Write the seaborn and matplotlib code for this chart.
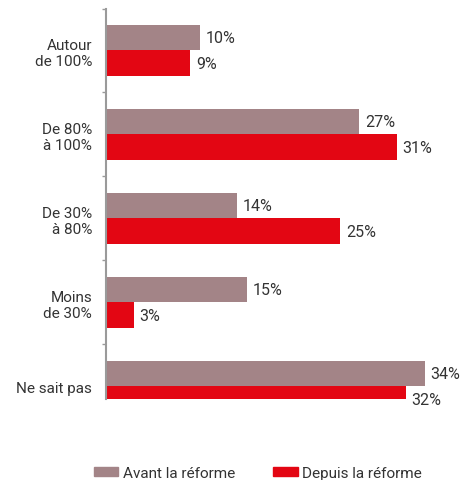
import matplotlib
matplotlib.use("Agg")
import matplotlib.pyplot as plt
import seaborn as sns
import pandas as pd
from matplotlib.ticker import FixedLocator

categories = ["Autour\nde 100%", "De 80%\nà 100%", "De 30%\nà 80%", "Moins\nde 30%", "Ne sait pas"]
series_names = ["Avant la réforme", "Depuis la réforme"]
avant = [10, 27, 14, 15, 34]
depuis = [9, 31, 25, 3, 32]
colors = ["#a38487", "#e30613"]

df = pd.DataFrame({
    "cat": categories * 2,
    "serie": [series_names[0]] * len(categories) + [series_names[1]] * len(categories),
    "val": avant + depuis,
})

sns.set_style("white")
plt.rcParams["font.family"] = ["Roboto", "DejaVu Sans"]

fig = plt.figure(figsize=(4.69, 4.81), dpi=100)
ax = fig.add_axes([106 / 469, 1 - 400 / 481, (453 - 106) / 469, (400 - 9.5) / 481])

sns.barplot(data=df, y="cat", x="val", hue="serie", orient="h", order=categories,
            hue_order=series_names, palette=colors, width=0.61, ax=ax,
            saturation=1, legend=True, linewidth=0)

ax.set_xlim(0, 37)
ax.set_ylim(4.15, -0.5)
ax.set_xlabel("")
ax.set_ylabel("")
ax.set_xticks([])
for s in ["top", "right", "bottom"]:
    ax.spines[s].set_visible(False)
ax.spines["left"].set_color("#9a9a9a")
ax.spines["left"].set_linewidth(1.5)

ax.tick_params(axis="y", which="major", length=0, pad=10, labelsize=11, labelcolor="#333333")
ax.yaxis.set_minor_locator(FixedLocator([-0.5, 0.5, 1.5, 2.5, 3.5]))
ax.tick_params(axis="y", which="minor", length=3, width=1, color="#9a9a9a", left=True)
for lbl in ax.get_yticklabels():
    lbl.set_multialignment("right")

for cont in ax.containers:
    ax.bar_label(cont, labels=[f"{int(v)}%" for v in cont.datavalues], padding=4,
                 fontsize=11.5, color="#333333")

ax.get_legend().remove()
handles = [plt.Rectangle((0, 0), 1, 1, color=c) for c in colors]
fig.legend(handles, series_names, loc="center", bbox_to_anchor=(0.55, 0.014), ncol=2,
           frameon=False, fontsize=11, handlelength=1.6, handleheight=0.55,
           columnspacing=2.5, handletextpad=0.3, labelcolor="#333333")

fig.savefig("out.png", dpi=100)
